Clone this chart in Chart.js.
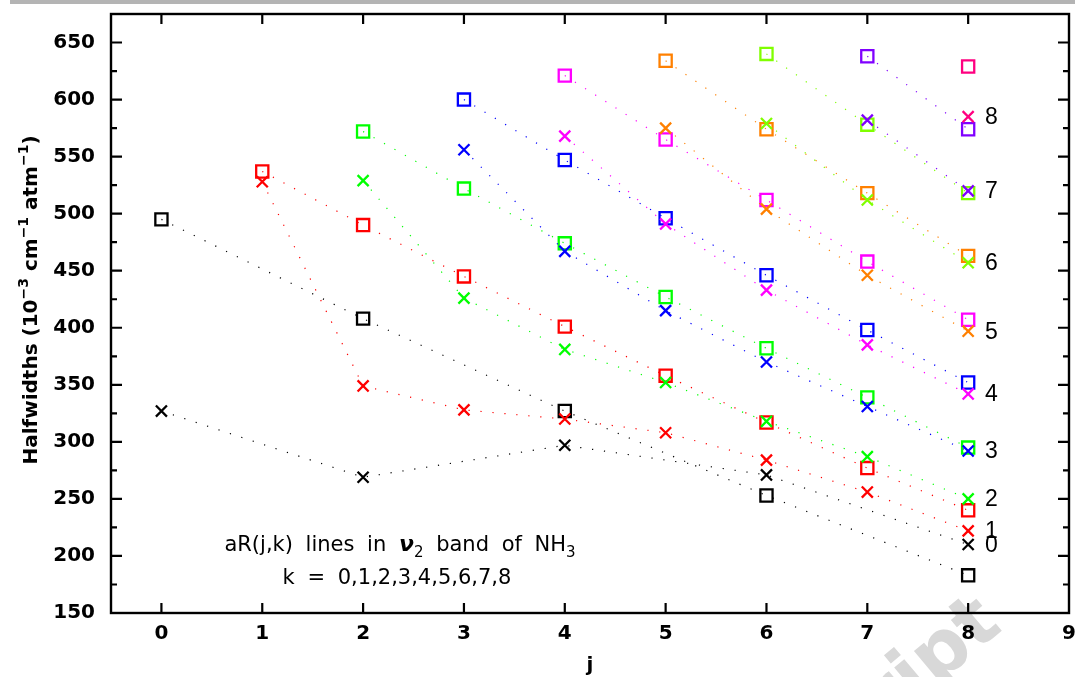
<!DOCTYPE html>
<html>
<head>
<meta charset="utf-8">
<script src="https://cdn.jsdelivr.net/npm/chart.js@4.4.1/dist/chart.umd.min.js"></script>
<style>
  html, body { margin: 0; padding: 0; background: #ffffff; overflow: hidden; }
  #wrap { position: relative; width: 1075px; height: 677px; }
  canvas { display: block; }
</style>
</head>
<body>
<div id="wrap"><canvas id="chart" width="1075" height="677"></canvas></div>
<script>
// Halfwidths of aR(j,k) lines in the nu2 band of NH3, per k.
// Squares and crosses; for k = 0 only even j, for k >= 1 j runs from k to 8.
const jAll = [0, 1, 2, 3, 4, 5, 6, 7, 8];
const jK0 = [0, 2, 4, 6, 8];

const squaresK0 = [495, 408, 327, 253, 183];
const crossesK0 = [327, 269, 297, 271, 210];
const squaresK1 = [537, 490, 445, 401, 358, 317, 277, 240];
const crossesK1 = [528, 349, 328, 320, 308, 284, 256, 222];
const squaresK2 = [572, 522, 474, 427, 382, 339, 295];
const crossesK2 = [529, 426, 381, 352, 318, 287, 250];
const squaresK3 = [600, 547, 496, 446, 398, 352];
const crossesK3 = [556, 467, 415, 370, 331, 292];
const squaresK4 = [621, 565, 512, 458, 407];
const crossesK4 = [568, 491, 433, 385, 342];
const squaresK5 = [634, 574, 518, 463];
const crossesK5 = [575, 504, 446, 397];
const squaresK6 = [640, 578, 518];
const crossesK6 = [579, 512, 457];
const squaresK7 = [638, 574];
const crossesK7 = [582, 520];
const squaresK8 = [629];
const crossesK8 = [585];

const kValues = [0, 1, 2, 3, 4, 5, 6, 7, 8];
const xTickValues = [0, 1, 2, 3, 4, 5, 6, 7, 8, 9];
const yTickValues = [150, 200, 250, 300, 350, 400, 450, 500, 550, 600, 650];

const squaresByK = [squaresK0, squaresK1, squaresK2, squaresK3, squaresK4, squaresK5, squaresK6, squaresK7, squaresK8];
const crossesByK = [crossesK0, crossesK1, crossesK2, crossesK3, crossesK4, crossesK5, crossesK6, crossesK7, crossesK8];
const jForK = k => (k === 0 ? jK0 : jAll.slice(k));

const kColors = ['#000000', '#ff0000', '#00ff00', '#0000ff', '#ff00ff', '#ff8000', '#80ff00', '#8000ff', '#ff0080'];

const datasets = [];
kValues.forEach(k => {
  const js = jForK(k);
  const color = kColors[k];
  const common = {
    showLine: true,
    borderColor: color,
    borderWidth: 1.2,
    borderDash: [1.2, 10.8],
    pointBorderColor: color,
    pointBackgroundColor: 'rgba(0,0,0,0)',
    pointHoverRadius: 0
  };
  datasets.push(Object.assign({}, common, {
    label: 'k=' + k + ' squares',
    data: js.map((j, i) => ({ x: j, y: squaresByK[k][i] })),
    pointStyle: 'rect',
    pointRadius: 8.6,
    pointBorderWidth: 2.3,
    order: (8 - k) * 2 + 1
  }));
  datasets.push(Object.assign({}, common, {
    label: 'k=' + k + ' crosses',
    data: js.map((j, i) => ({ x: j, y: crossesByK[k][i] })),
    pointStyle: 'crossRot',
    pointRadius: 7.8,
    pointBorderWidth: 2.3,
    order: (8 - k) * 2,
    kLabel: String(k)
  }));
});

// Grey rule along the top and the faint diagonal watermark
const backdrop = {
  id: 'backdrop',
  beforeDraw(chart) {
    const ctx = chart.ctx;
    ctx.save();
    ctx.fillStyle = '#b4b4b4';
    ctx.fillRect(10, 0, 1065, 4);
    ctx.translate(1004, 629);
    ctx.rotate(-40 * Math.PI / 180);
    ctx.font = 'bold 75px "DejaVu Sans"';
    ctx.fillStyle = '#d8d8d8';
    ctx.textAlign = 'right';
    ctx.textBaseline = 'alphabetic';
    ctx.fillText('Accepted Manuscript', 0, 0);
    ctx.restore();
  }
};

// Box around the plot with inward tick marks on all four sides
const frameTicks = {
  id: 'frameTicks',
  afterDatasetsDraw(chart) {
    const { ctx, chartArea: a, scales: { x, y } } = chart;
    ctx.save();
    ctx.strokeStyle = '#000';
    ctx.lineWidth = 2.2;
    ctx.lineCap = 'butt';
    ctx.beginPath();
    x.ticks.forEach(t => {
      const px = x.getPixelForValue(t.value);
      if (px <= a.left + 1 || px >= a.right - 1) return;
      ctx.moveTo(px, a.bottom); ctx.lineTo(px, a.bottom - 10);
      ctx.moveTo(px, a.top); ctx.lineTo(px, a.top + 10);
    });
    y.ticks.forEach(t => {
      const py = y.getPixelForValue(t.value);
      if (py < a.bottom - 1 && py > a.top + 1) {
        ctx.moveTo(a.left, py); ctx.lineTo(a.left + 11, py);
        ctx.moveTo(a.right, py); ctx.lineTo(a.right - 11, py);
      }
      const mid = y.getPixelForValue(t.value + 25);
      if (mid > a.top + 1) {
        ctx.moveTo(a.left, mid); ctx.lineTo(a.left + 6, mid);
        ctx.moveTo(a.right, mid); ctx.lineTo(a.right - 6, mid);
      }
    });
    ctx.stroke();
    ctx.lineWidth = 2.4;
    ctx.strokeRect(a.left, a.top, a.right - a.left, a.bottom - a.top);
    ctx.restore();
  }
};

// Draws a run of text pieces (with super/subscripts) centred on x, on baseline y
function drawRuns(ctx, runs, cx, by) {
  let total = 0;
  runs.forEach(r => { ctx.font = r.font; total += ctx.measureText(r.text).width; });
  let x = cx - total / 2;
  runs.forEach(r => {
    ctx.font = r.font;
    ctx.fillText(r.text, x, by + (r.dy || 0));
    x += ctx.measureText(r.text).width;
  });
}

// Axis titles, the in-plot note and the k labels beside the j = 8 crosses
const annotations = {
  id: 'annotations',
  afterDraw(chart) {
    const { ctx, scales: { x, y } } = chart;
    ctx.save();
    ctx.fillStyle = '#000';
    ctx.textAlign = 'left';
    ctx.textBaseline = 'alphabetic';

    // y-axis title
    const main = 'bold 20px "DejaVu Sans"';
    const sup = 'bold 14px "DejaVu Sans"';
    ctx.save();
    ctx.translate(37, 300);
    ctx.rotate(-Math.PI / 2);
    drawRuns(ctx, [
      { text: 'Halfwidths (10', font: main },
      { text: '\u22123', font: sup, dy: -9 },
      { text: ' cm', font: main },
      { text: '\u22121', font: sup, dy: -9 },
      { text: ' atm', font: main },
      { text: '\u22121', font: sup, dy: -9 },
      { text: ')', font: main }
    ], 0, 0);
    ctx.restore();

    // x-axis title
    ctx.font = 'bold 20px "DejaVu Sans"';
    ctx.textAlign = 'center';
    ctx.fillText('j', (x.left + x.right) / 2, 671);
    ctx.textAlign = 'left';

    // note inside the plot
    const note = '21px "DejaVu Sans"';
    const noteSub = '15px "DejaVu Sans"';
    ctx.wordSpacing = '6px';
    drawRuns(ctx, [
      { text: 'aR(j,k) lines in ', font: note },
      { text: '\u03bd', font: 'italic bold 22px "DejaVu Sans"' },
      { text: '2', font: noteSub, dy: 6 },
      { text: ' band of NH', font: note },
      { text: '3', font: noteSub, dy: 6 }
    ], 400, 551);
    drawRuns(ctx, [{ text: 'k = 0,1,2,3,4,5,6,7,8', font: note }], 397, 584);
    ctx.wordSpacing = '0px';

    // k labels at the right-hand end of each series of crosses
    ctx.font = '23px "Liberation Sans"';
    ctx.textBaseline = 'middle';
    chart.data.datasets.forEach(ds => {
      if (!ds.kLabel) return;
      const last = ds.data[ds.data.length - 1];
      ctx.fillText(ds.kLabel, 985, y.getPixelForValue(last.y) + 1);
    });
    ctx.restore();
  }
};

const tickFont = { family: 'DejaVu Sans', weight: 'bold', size: 20 };

new Chart(document.getElementById('chart'), {
  type: 'scatter',
  data: { datasets },
  plugins: [backdrop, frameTicks, annotations],
  options: {
    responsive: false,
    animation: false,
    devicePixelRatio: 1,
    layout: { autoPadding: false, padding: { left: 0, top: 14, right: 6, bottom: 0 } },
    plugins: { legend: { display: false }, tooltip: { enabled: false } },
    events: [],
    scales: {
      x: {
        type: 'linear',
        min: -0.5,
        max: 9,
        afterBuildTicks: s => { s.ticks = xTickValues.map(v => ({ value: v })); },
        afterFit: s => { s.height = 64; s.paddingLeft = 0; s.paddingRight = 0; },
        grid: { display: false, drawTicks: false },
        border: { display: false },
        ticks: { font: tickFont, color: '#000', padding: 9, maxRotation: 0, autoSkip: false,
                 callback: v => String(v) }
      },
      y: {
        type: 'linear',
        min: 150,
        max: 675,
        afterBuildTicks: s => { s.ticks = yTickValues.map(v => ({ value: v })); },
        afterFit: s => { s.width = 111; s.paddingTop = 0; s.paddingBottom = 0; },
        grid: { display: false, drawTicks: false },
        border: { display: false },
        ticks: { font: tickFont, color: '#000', padding: 16, autoSkip: false,
                 callback: v => String(v) }
      }
    }
  }
});
</script>
</body>
</html>
